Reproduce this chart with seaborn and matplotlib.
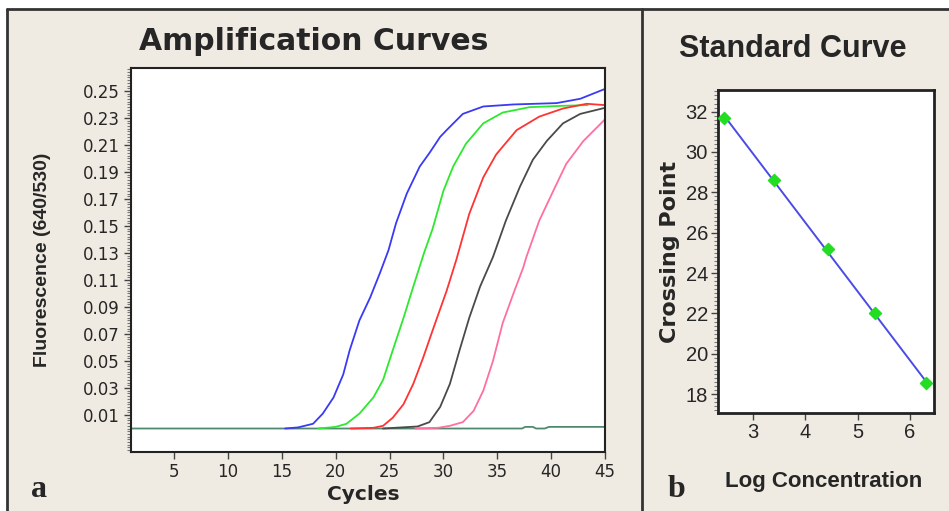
import matplotlib
matplotlib.use("Agg")
import matplotlib.pyplot as plt
import numpy as np
import pandas as pd
import seaborn as sns
from matplotlib.lines import Line2D
from matplotlib.patches import Rectangle
from matplotlib.ticker import MultipleLocator

# amplification curves (cycle, fluorescence 640/530)
BLUE_CYC = [15.3, 16.5, 17.9, 18.8, 19.8, 20.7, 21.3, 22.2, 23.2, 24.1, 24.9, 25.6,
            26.6, 27.8, 28.7, 29.7, 30.3, 31.8, 33.7, 36.5, 40.5, 42.7, 45.0]
BLUE_FL = [0.0, 0.0008, 0.0035, 0.011, 0.023, 0.040, 0.058, 0.080, 0.097, 0.115, 0.132, 0.152,
           0.174, 0.194, 0.204, 0.216, 0.221, 0.233, 0.2385, 0.240, 0.241, 0.2442, 0.2515]

GREEN_CYC = [18.4, 20.0, 21.0, 22.2, 23.5, 24.4, 25.3, 26.3, 27.2, 28.2, 29.0, 30.0,
             30.9, 32.1, 33.7, 35.5, 38.0, 41.1, 43.4]
GREEN_FL = [0.0, 0.0012, 0.0035, 0.011, 0.023, 0.036, 0.058, 0.082, 0.105, 0.130, 0.148, 0.176,
            0.194, 0.211, 0.226, 0.234, 0.238, 0.239, 0.2395]

RED_CYC = [21.4, 23.5, 24.4, 25.3, 26.3, 27.2, 28.1, 29.1, 30.3, 31.2, 32.4, 33.7,
           34.9, 36.8, 38.9, 41.1, 43.3, 45.0]
RED_FL = [0.0, 0.0005, 0.002, 0.008, 0.018, 0.033, 0.052, 0.075, 0.102, 0.125, 0.159, 0.186,
          0.203, 0.221, 0.231, 0.237, 0.2405, 0.2395]

BLACK_CYC = [24.4, 27.6, 28.7, 29.7, 30.6, 31.5, 32.4, 33.4, 34.6, 35.8, 37.1, 38.3,
             39.6, 41.1, 42.7, 45.0]
BLACK_FL = [0.0, 0.0015, 0.0047, 0.016, 0.033, 0.058, 0.082, 0.105, 0.127, 0.154, 0.179, 0.199,
            0.213, 0.226, 0.233, 0.2375]

PINK_CYC = [27.4, 29.5, 30.6, 31.8, 32.8, 33.7, 34.6, 35.5, 36.5, 37.4, 37.7, 38.9,
            40.2, 41.4, 43.0, 45.0]
PINK_FL = [0.0, 0.0005, 0.002, 0.0047, 0.013, 0.028, 0.050, 0.078, 0.100, 0.119, 0.127, 0.154,
           0.176, 0.196, 0.213, 0.229]

NEG_CYC = [1.0, 37.3, 37.6, 38.3, 38.6, 39.4, 39.8, 45.0]
NEG_FL = [0.0, 0.0, 0.0012, 0.0012, 0.0, 0.0, 0.0012, 0.0012]

SAMPLES = ["neg", "s1", "s2", "s3", "s4", "s5"]
COLORS = ["#4f8a6e", "#3a3af5", "#2ee82e", "#ff3333", "#4a4a4a", "#ff6f9f"]

# standard curve points
LOG_CONC = [2.45, 3.40, 4.43, 5.33, 6.30]
CROSSING = [31.7, 28.6, 25.2, 22.0, 18.55]

AMP_XTICKS = [5, 10, 15, 20, 25, 30, 35, 40, 45]
AMP_YTICKS = [0.01, 0.03, 0.05, 0.07, 0.09, 0.11, 0.13, 0.15, 0.17, 0.19, 0.21, 0.23, 0.25]
STD_XTICKS = [3, 4, 5, 6]
STD_YTICKS = [18, 20, 22, 24, 26, 28, 30, 32]

BG = "#f0ebe2"
NARROW = ["Liberation Sans", "DejaVu Sans"]
WIDE = ["DejaVu Sans"]
SERIF = ["Liberation Serif", "DejaVu Serif"]

sns.set_theme(style="ticks")
plt.rcParams["font.family"] = ["DejaVu Sans"]

W, H = 949, 511
fig = plt.figure(figsize=(W / 100, H / 100), dpi=100)
fig.patch.set_facecolor("white")
fig.add_artist(Rectangle((7 / W, 0), 1, (H - 9) / H, transform=fig.transFigure,
                         facecolor=BG, edgecolor="none", zorder=-5))
frame_kw = dict(transform=fig.transFigure, color="#333333", lw=2)
fig.add_artist(Line2D([7 / W, 1], [(H - 9) / H] * 2, **frame_kw))
fig.add_artist(Line2D([7 / W] * 2, [0, (H - 9) / H], **frame_kw))
fig.add_artist(Line2D([642 / W] * 2, [0, (H - 9) / H], **frame_kw))

# ---- panel a: amplification curves
frames = []
for name, cyc, fl in zip(SAMPLES,
                         [NEG_CYC, BLUE_CYC, GREEN_CYC, RED_CYC, BLACK_CYC, PINK_CYC],
                         [NEG_FL, BLUE_FL, GREEN_FL, RED_FL, BLACK_FL, PINK_FL]):
    frames.append(pd.DataFrame({"cycle": cyc, "fluor": fl, "sample": name}))
amp = pd.concat(frames, ignore_index=True)

ax1 = fig.add_axes([131 / W, (H - 452) / H, (605 - 131) / W, (452 - 68) / H])
ax1.set_facecolor("white")
sns.lineplot(data=amp, x="cycle", y="fluor", hue="sample", hue_order=SAMPLES,
             palette=dict(zip(SAMPLES, COLORS)), estimator=None, sort=False,
             linewidth=1.3, legend=False, ax=ax1)
ax1.set_xlim(1, 45)
ax1.set_ylim(-0.0174, 0.267)
ax1.set_xticks(AMP_XTICKS)
ax1.set_xticklabels([str(t) for t in AMP_XTICKS], fontsize=12, family=WIDE)
ax1.set_yticks(AMP_YTICKS)
ax1.set_yticklabels([f"{t:.2f}" for t in AMP_YTICKS], fontsize=12, family=WIDE)
ax1.yaxis.set_minor_locator(MultipleLocator(0.002))
ax1.tick_params(axis="both", which="major", length=5, width=1, color="#444444", pad=3)
ax1.tick_params(axis="y", which="minor", length=3, width=0.8, color="#777777")
ax1.tick_params(axis="x", which="minor", length=0)
ax1.set_xlabel("")
ax1.set_ylabel("")
for sp in ax1.spines.values():
    sp.set_color("#222222")
    sp.set_linewidth(1.5)

fig.text(314 / W, 1 - 41 / H, "Amplification Curves", ha="center", va="center",
         fontsize=21.5, fontweight="bold", family=WIDE)
fig.text(363 / W, 1 - 500 / H, "Cycles", ha="center", va="baseline",
         fontsize=14.5, fontweight="bold", family=WIDE)
fig.text(43 / W, 1 - 260 / H, "Fluorescence (640/530)", ha="center", va="center",
         rotation=90, fontsize=14, fontweight="bold", family=NARROW)
fig.text(39 / W, 1 - 497 / H, "a", ha="center", va="baseline", fontsize=23,
         fontweight="bold", family=SERIF)

# ---- panel b: standard curve
std = pd.DataFrame({"log_conc": LOG_CONC, "crossing": CROSSING})
ax2 = fig.add_axes([717.7 / W, (H - 413) / H, (934 - 717.7) / W, (413 - 90) / H])
ax2.set_facecolor("white")
sns.regplot(data=std, x="log_conc", y="crossing", ci=None, marker="D", ax=ax2,
            scatter_kws=dict(s=38, color="#22dd22", edgecolors="#22dd22", zorder=3, alpha=1),
            line_kws=dict(color="#4b4be6", lw=1.4, zorder=2))
ax2.set_xlim(2.33, 6.46)
ax2.set_ylim(17.07, 33.07)
ax2.set_xticks(STD_XTICKS)
ax2.set_xticklabels([str(t) for t in STD_XTICKS], fontsize=14.5, family=NARROW)
ax2.set_yticks(STD_YTICKS)
ax2.set_yticklabels([str(t) for t in STD_YTICKS], fontsize=14.5, family=NARROW)
ax2.yaxis.set_minor_locator(MultipleLocator(0.2))
ax2.tick_params(axis="both", which="major", length=5, width=1, color="#444444", pad=2)
ax2.tick_params(axis="y", which="minor", length=3, width=0.8, color="#777777")
ax2.set_xlabel("")
ax2.set_ylabel("")
for sp in ax2.spines.values():
    sp.set_color("#222222")
    sp.set_linewidth(2)

fig.text(793 / W, 1 - 49 / H, "Standard Curve", ha="center", va="center",
         fontsize=22, fontweight="bold", family=NARROW)
fig.text(824 / W, 1 - 487 / H, "Log Concentration", ha="center", va="baseline",
         fontsize=16, fontweight="bold", family=NARROW)
fig.text(670 / W, 1 - 252 / H, "Crossing Point", ha="center", va="center",
         rotation=90, fontsize=16, fontweight="bold", family=WIDE)
fig.text(676 / W, 1 - 497 / H, "b", ha="center", va="baseline", fontsize=23,
         fontweight="bold", family=SERIF)

fig.savefig("out.png", dpi=100, facecolor=fig.get_facecolor())
